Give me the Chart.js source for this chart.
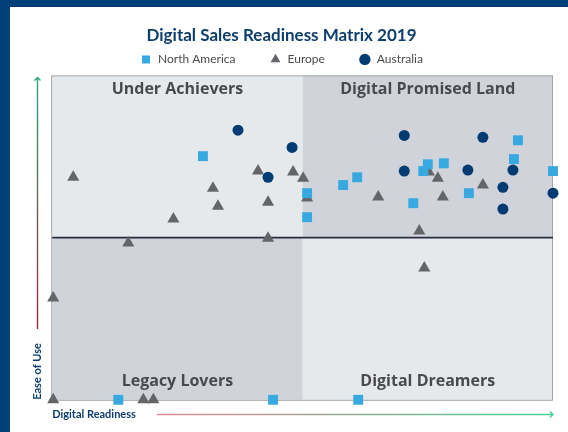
<!DOCTYPE html>
<html>
<head>
<meta charset="utf-8">
<script src="https://cdn.jsdelivr.net/npm/chart.js@4.4.1/dist/chart.umd.min.js"></script>
<style>
  html, body { margin: 0; padding: 0; background: #fff; }
  #wrap { width: 568px; height: 432px; position: relative; }
</style>
</head>
<body>
<div id="wrap"><canvas id="matrix"></canvas></div>
<script>
// ---- data (0..10 on both axes, 5 = quadrant split) ----
const northAmericaX = [3.01, 5.09, 5.09, 9.30, 9.22, 7.50, 7.82, 7.41, 10.0, 6.09, 5.81, 8.32, 7.21, 1.32, 4.41, 6.11];
const northAmericaY = [7.51, 6.37, 5.63, 8.00, 7.42, 7.26, 7.29, 7.05, 7.05, 6.86, 6.62, 6.37, 6.06, 0.00, 0.00, 0.00];

const europeX = [0.42, 4.11, 4.81, 5.01, 3.21, 3.31, 4.31, 2.42, 1.52, 4.31, 5.09, 7.52, 7.70, 8.60, 6.51, 7.80, 7.33, 7.43, 0.02, 0.02, 1.82, 2.02];
const europeY = [6.86, 7.05, 7.02, 6.83, 6.52, 5.97, 6.09, 5.57, 4.83, 4.98, 6.22, 7.02, 6.83, 6.62, 6.25, 6.25, 5.20, 4.06, 3.14, 0.00, 0.00, 0.00];

const australiaX = [3.71, 4.79, 4.31, 7.03, 8.60, 7.03, 8.30, 9.20, 9.00, 10.0, 9.00];
const australiaY = [8.31, 7.78, 6.86, 8.15, 8.09, 7.05, 7.08, 7.08, 6.55, 6.37, 5.88];

const quadrantNames = ['Under Achievers', 'Digital Promised Land', 'Legacy Lovers', 'Digital Dreamers'];

function toPoints(xs, ys) {
    return xs.map((x, i) => ({ x: x, y: ys[i] }));
}

// quadrants, frame, midline and the two axis arrows
const matrixBackdrop = {
    id: 'matrixBackdrop',
    beforeDraw(chart) {
        const { ctx, chartArea: a, scales: { x, y } } = chart;
        const mx = x.getPixelForValue(5);
        const my = y.getPixelForValue(5);
        ctx.save();

        // blue frame
        ctx.fillStyle = '#003f78';
        ctx.fillRect(0, 0, chart.width, 7);
        ctx.fillRect(0, 0, 10, chart.height);

        const light = '#e6e9ec';
        const dark = '#d0d4da';
        ctx.fillStyle = light;
        ctx.fillRect(a.left, a.top, mx - a.left, my - a.top);
        ctx.fillRect(mx, my, a.right - mx, a.bottom - my);
        ctx.fillStyle = dark;
        ctx.fillRect(mx, a.top, a.right - mx, my - a.top);
        ctx.fillRect(a.left, my, mx - a.left, a.bottom - my);

        // border
        ctx.strokeStyle = '#a3a5a8';
        ctx.lineWidth = 1;
        ctx.strokeRect(a.left - 0.5, a.top + 0.5, a.right - a.left, a.bottom - a.top);

        // horizontal split line
        ctx.strokeStyle = '#262b40';
        ctx.lineWidth = 1.6;
        ctx.beginPath();
        ctx.moveTo(a.left, my);
        ctx.lineTo(a.right, my);
        ctx.stroke();

        // quadrant names
        ctx.fillStyle = '#4a4a4e';
        ctx.font = 'bold 16px "Open Sans", sans-serif';
        ctx.textAlign = 'center';
        ctx.textBaseline = 'middle';
        const lc = (a.left + mx) / 2, rc = (mx + a.right) / 2;
        ctx.fillText(quadrantNames[0], lc, a.top + 14);
        ctx.fillText(quadrantNames[1], rc, a.top + 14);
        ctx.fillText(quadrantNames[2], lc, a.bottom - 18);
        ctx.fillText(quadrantNames[3], rc, a.bottom - 18);

        // y arrow (ease of use)
        const ax = 37.5, top = a.top + 2, bot = 329;
        let g = ctx.createLinearGradient(0, top, 0, bot);
        g.addColorStop(0, '#27a877');
        g.addColorStop(1, '#a8243a');
        ctx.strokeStyle = g;
        ctx.lineWidth = 1.4;
        ctx.beginPath();
        ctx.moveTo(ax, top);
        ctx.lineTo(ax, bot);
        ctx.moveTo(ax - 3, top + 3);
        ctx.lineTo(ax, top);
        ctx.lineTo(ax + 3, top + 3);
        ctx.stroke();

        // x arrow (digital readiness)
        const ay = 414.5, l = 157, r = a.right;
        g = ctx.createLinearGradient(l, 0, r, 0);
        g.addColorStop(0, '#e28a96');
        g.addColorStop(1, '#45d097');
        ctx.strokeStyle = g;
        ctx.beginPath();
        ctx.moveTo(l, ay);
        ctx.lineTo(r, ay);
        ctx.moveTo(r - 3, ay - 3);
        ctx.lineTo(r, ay);
        ctx.lineTo(r - 3, ay + 3);
        ctx.stroke();

        ctx.restore();
    }
};

const ctx = document.getElementById('matrix').getContext('2d');

new Chart(ctx, {
    type: 'scatter',
    data: {
        datasets: [{
            label: 'North America',
            data: toPoints(northAmericaX, northAmericaY),
            pointStyle: 'rect',
            pointRadius: 7,
            pointHoverRadius: 7,
            backgroundColor: '#38a8e0',
            borderWidth: 0,
            clip: false
        }, {
            label: 'Europe',
            data: toPoints(europeX, europeY),
            pointStyle: 'triangle',
            pointRadius: 7,
            pointHoverRadius: 7,
            backgroundColor: '#646568',
            borderWidth: 0,
            clip: false
        }, {
            label: 'Australia',
            data: toPoints(australiaX, australiaY),
            pointStyle: 'circle',
            pointRadius: 5.5,
            pointHoverRadius: 5.5,
            backgroundColor: '#003c72',
            borderWidth: 0,
            clip: false
        }]
    },
    options: {
        responsive: true,
        maintainAspectRatio: false,
        animation: false,
        layout: { padding: { top: 16, left: 10, right: 15, bottom: 0 } },
        plugins: {
            title: {
                display: true,
                text: 'Digital Sales Readiness Matrix 2019',
                color: '#0d3e6e',
                font: { size: 17, weight: 'bold', family: 'Lato' },
                padding: { top: 9, bottom: -26 }
            },
            legend: {
                labels: {
                    usePointStyle: true,
                    boxHeight: 8,
                    color: '#4a4a4a',
                    padding: 34,
                    font: { size: 12, family: 'Lato' }
                }
            },
            tooltip: { enabled: false }
        },
        scales: {
            x: {
                min: 0, max: 10,
                grid: { display: false, drawTicks: false },
                border: { display: false },
                ticks: { display: false },
                title: {
                    display: true,
                    text: 'Digital Readiness',
                    align: 'start',
                    color: '#0d3e6e',
                    font: { size: 11, weight: 'bold', family: 'Lato' },
                    padding: { top: 8, bottom: 11 }
                }
            },
            y: {
                min: 0, max: 10,
                grid: { display: false, drawTicks: false },
                border: { display: false },
                ticks: { display: false },
                title: {
                    display: true,
                    text: 'Ease of Use',
                    align: 'start',
                    color: '#0d3e6e',
                    font: { size: 11, weight: 'bold', family: 'Lato' },
                    padding: { top: 21, bottom: 8 }
                }
            }
        }
    },
    plugins: [matrixBackdrop]
});
</script>
</body>
</html>
